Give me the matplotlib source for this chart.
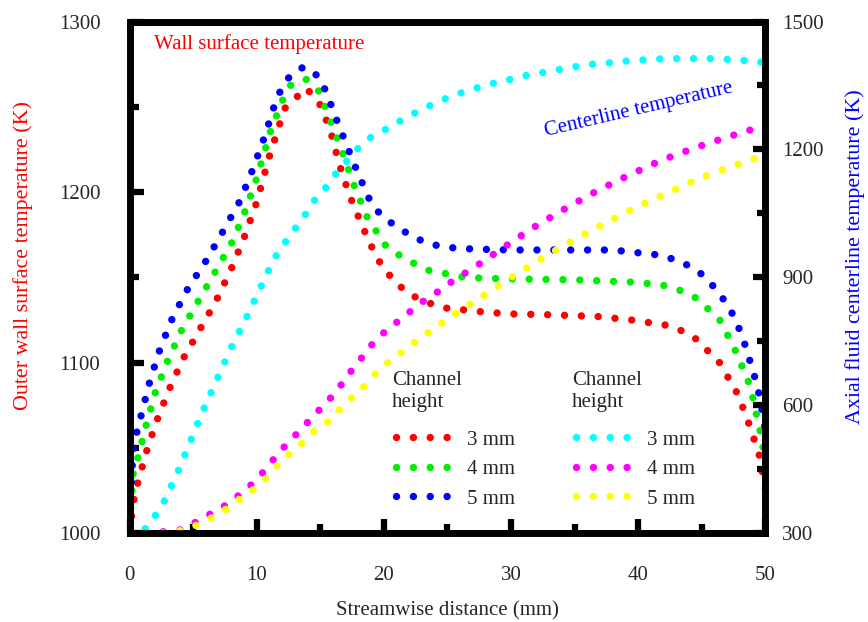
import matplotlib
matplotlib.use("Agg")
import matplotlib.pyplot as plt
from matplotlib.lines import Line2D
from matplotlib.ticker import MultipleLocator

plt.rcParams['font.family'] = ['Liberation Serif', 'DejaVu Serif']

# outer wall surface temperature (K) vs streamwise distance (mm)
wall_3mm_x = [0, 0.3, 0.6, 1.3, 2.1, 3.1, 4.2, 5.5, 6.8, 8.0, 9.0, 10.0, 11.0, 12.2, 13.9,
              15.0, 15.8, 16.5, 17.3, 18.3, 19.4, 20.1, 21.2, 22.3, 23.5, 24.8, 26.1, 28.0,
              30.0, 33.0, 36.8, 39.4, 42.1, 43.3, 44.5, 45.3, 46.3, 47.0, 47.7, 48.2, 48.7,
              49.1, 49.5, 50.0]
wall_3mm_y = [1000, 1018, 1028, 1047, 1065, 1084, 1102, 1119, 1136, 1155, 1173, 1194, 1221, 1249, 1261,
              1251, 1236, 1216, 1198, 1180, 1162, 1154, 1145, 1139, 1135, 1132, 1131, 1129.5,
              1128.5, 1128, 1127, 1125, 1122, 1119, 1114, 1108, 1101, 1092, 1083, 1074, 1064,
              1055, 1046, 1026]

wall_4mm_x = [0, 0.3, 0.7, 1.3, 2.05, 3.0, 4.1, 5.4, 6.8, 8.1, 9.1, 10.0, 11.1, 12.1, 12.7, 13.9,
              14.9, 15.9, 16.8, 17.7, 18.7, 19.4, 20.1, 21.2, 22.4, 23.7, 25.0, 26.3, 27.6, 30.0,
              35.0, 40.0, 42.2, 43.4, 44.5, 45.4, 46.4, 47.1, 47.7, 48.2, 48.7, 49.05, 49.3,
              49.6, 50.0]
wall_4mm_y = [1005, 1036, 1045, 1063, 1083, 1101, 1119, 1136, 1154, 1171, 1189, 1208, 1236, 1255, 1263, 1266,
              1259, 1240, 1222, 1203, 1185, 1177, 1169, 1163, 1158, 1153.5, 1152, 1150, 1149.5, 1149,
              1148.5, 1147, 1145, 1142, 1138, 1132, 1125, 1115, 1106, 1097, 1088, 1078, 1069,
              1059, 1042]

wall_5mm_x = [0, 0.3, 0.95, 1.6, 2.4, 3.4, 4.6, 6.1, 7.4, 8.7, 9.7, 10.6, 11.4, 11.9, 12.6, 13.7,
              14.9, 15.5, 16.4, 17.9, 18.9, 19.7, 20.8, 22.0, 23.2, 24.5, 25.8, 27.2, 30.0, 35.0,
              38.0, 40.4, 41.7, 43.0, 44.2, 45.2, 46.1, 46.9, 47.6, 48.1, 48.5, 48.9, 49.3,
              49.6, 50.0]
wall_5mm_y = [1010, 1051, 1070, 1089, 1108, 1126.5, 1143.5, 1160.6, 1177.6, 1195, 1213.5, 1232, 1251, 1260, 1268, 1273.5,
              1267.6, 1258, 1240, 1212, 1195, 1187, 1180.6, 1175, 1170.6, 1168, 1167, 1166.5, 1166, 1166,
              1166, 1164, 1163, 1160, 1156, 1150.6, 1143, 1135, 1126, 1116.5, 1108, 1097.6, 1088,
              1078, 1060]

# axial fluid centerline temperature (K)
center_3mm_x = [0, 1.1, 1.9, 2.7, 3.8, 4.8, 5.85, 6.9, 8.0, 9.2, 10.35, 10.9, 11.45, 12.2, 13.0,
                13.8, 14.5, 15.4, 16.2, 17.1, 18.0, 19.0, 20.2, 21.4, 22.6, 23.8, 25.0, 26.3,
                27.6, 28.8, 30.2, 31.4, 32.8, 34.1, 35.4, 36.7, 38.1, 39.3, 40.7, 42.1, 44.7,
                46.1, 47.3, 48.7, 50.0]
center_3mm_y = [300, 305, 335, 373, 443.5, 516.5, 592, 662, 735, 806, 879, 914, 947, 980, 1013,
                1046, 1079, 1109, 1142, 1173, 1203.5, 1229, 1248, 1269, 1288, 1305, 1321, 1335,
                1347, 1356.5, 1366, 1375, 1382, 1389, 1396, 1401, 1404, 1408, 1410.5, 1413, 1413,
                1413, 1410.5, 1408, 1403.5]

center_4mm_x = [0, 2.0, 3.95, 5.1, 6.2, 7.35, 8.45, 9.4, 10.4, 11.3, 12.1, 13.0, 13.9, 14.8,
                15.7, 16.6, 17.4, 18.2, 19.0, 20.1, 21.1, 22.2, 23.2, 24.3, 25.4, 26.5, 27.7,
                29.9, 32.2, 34.6, 36.9, 39.3, 41.7, 44.2, 46.8, 49.4, 50.0]
center_4mm_y = [300, 301, 307, 323.5, 342, 361, 385, 408, 439, 472, 500, 528, 556.5, 585,
                613, 646, 679, 709, 740, 773, 796.5, 822.5, 846, 867, 891, 912, 935,
                980, 1025, 1067, 1105, 1140, 1173, 1201, 1227, 1251, 1256]

center_5mm_x = [0, 2.7, 3.95, 5.1, 6.3, 7.5, 8.6, 9.7, 10.7, 11.6, 12.6, 13.7, 14.5, 15.6, 16.5,
                17.5, 18.5, 19.4, 20.4, 21.5, 22.6, 23.6, 25.8, 28.1, 30.4, 32.7, 35.0, 37.3,
                39.7, 42.1, 44.5, 47.0, 49.5, 50.0]
center_5mm_y = [300, 300, 305, 316, 333, 354, 378, 401, 427, 458, 486, 514, 538, 561, 589,
                618, 646, 676.5, 702.6, 726, 752, 773, 818, 862, 907, 949, 989, 1025,
                1062.6, 1095, 1128, 1156.5, 1182.6, 1188]

labels = ['3 mm', '4 mm', '5 mm']
wall_colors = ['#ff0000', '#00ee00', '#0000ff']
center_colors = ['#00ffff', '#ff00ff', '#ffff00']

TEXT = '#262626'
FS = 15
DOT_LW = 5.3
DOTS = (0, (0.01, 2.28))


def dotted(ax, x, y, color):
    ax.plot(x, y, color=color, lw=DOT_LW, linestyle=DOTS, dash_capstyle='round')


def handle(color):
    return Line2D([], [], color=color, lw=DOT_LW, linestyle=DOTS, dash_capstyle='round')


def style_axis(ax):
    for s in ax.spines.values():
        s.set_linewidth(4.8)
        s.set_color('black')
    ax.tick_params(which='both', direction='in', colors='black', labelcolor=TEXT,
                   labelsize=FS)
    ax.tick_params(which='major', length=10, width=4.5)
    ax.tick_params(which='minor', length=6.5, width=4.5)


def add_legend(ax, colors, left):
    # "Channel height" heading sits above the dotted samples
    ax.text(left - 0.006, 0.316, 'Channel\nheight', transform=ax.transAxes, fontsize=FS,
            color=TEXT, ha='left', va='top')
    leg = ax.legend(handles=[handle(c) for c in colors], labels=labels, fontsize=FS,
                    loc='upper left', bbox_to_anchor=(left, 0.201), frameon=False,
                    borderpad=0, borderaxespad=0, handlelength=2.7, handletextpad=0.72,
                    labelspacing=0.47, labelcolor=TEXT)
    return leg


def main():
    fig = plt.figure(figsize=(8.68, 6.22), dpi=100)
    ax = fig.add_axes([0.1492, 0.1431, 0.8819 - 0.1492, 0.9654 - 0.1431])
    ax2 = ax.twinx()

    for x, y, c in zip([wall_3mm_x, wall_4mm_x, wall_5mm_x],
                       [wall_3mm_y, wall_4mm_y, wall_5mm_y], wall_colors):
        dotted(ax, x, y, c)
    for x, y, c in zip([center_3mm_x, center_4mm_x, center_5mm_x],
                       [center_3mm_y, center_4mm_y, center_5mm_y], center_colors):
        dotted(ax2, x, y, c)

    ax.set_xlim(0, 50)
    ax.set_ylim(1000, 1300)
    ax2.set_ylim(300, 1500)

    ax.xaxis.set_major_locator(MultipleLocator(10))
    ax.xaxis.set_minor_locator(MultipleLocator(5))
    ax.yaxis.set_major_locator(MultipleLocator(100))
    ax.yaxis.set_minor_locator(MultipleLocator(50))
    ax2.yaxis.set_major_locator(MultipleLocator(300))
    ax2.yaxis.set_minor_locator(MultipleLocator(150))

    style_axis(ax)
    style_axis(ax2)
    ax.tick_params(top=False, right=False)
    ax.tick_params(axis='x', pad=24)
    ax.tick_params(axis='y', pad=21)
    ax2.tick_params(left=False, top=False, bottom=False)
    ax2.tick_params(axis='y', which='major', length=8.5, pad=12)
    ax2.tick_params(axis='y', which='minor', length=6)

    ax.set_xlabel('Streamwise distance (mm)', fontsize=FS, color=TEXT, va='center')
    ax.xaxis.set_label_coords(0.5, -0.153)
    ax.set_ylabel('Outer wall surface temperature (K)', fontsize=15.8, color='red',
                  va='center')
    ax.yaxis.set_label_coords(-0.167, 0.543)
    ax2.set_ylabel('Axial fluid centerline temperature (K)', fontsize=15.8, color='blue',
                   va='center', rotation=90)
    ax2.yaxis.set_label_coords(1.141, 0.54)

    ax.text(1.9, 1287, 'Wall surface temperature', color='red', fontsize=FS,
            ha='left', va='center')
    ax2.text(40.0, 1292, 'Centerline temperature', color='blue', fontsize=FS,
             ha='center', va='center', rotation=13.2, rotation_mode='anchor')

    add_legend(ax, wall_colors, 0.419)
    add_legend(ax2, center_colors, 0.702)

    fig.savefig('out.png', dpi=100)


if __name__ == "__main__":
    main()
